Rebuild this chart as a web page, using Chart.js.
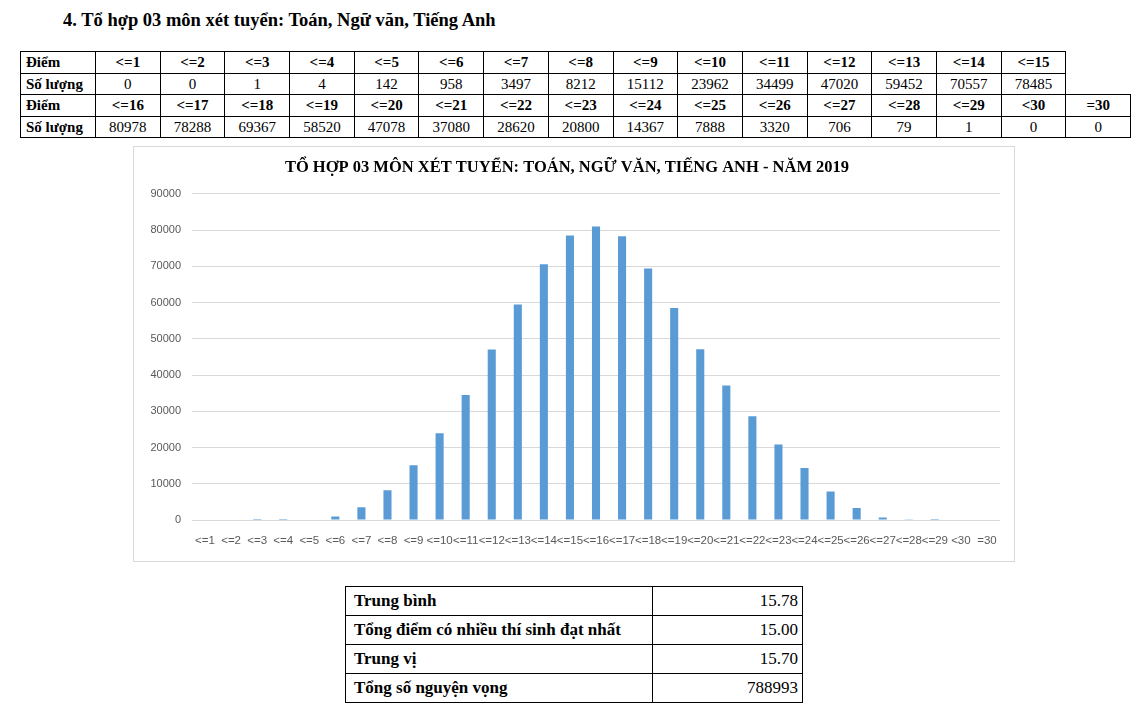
<!DOCTYPE html>
<html>
<head>
<meta charset="utf-8">
<script src="https://cdn.jsdelivr.net/npm/chart.js@4.4.0/dist/chart.umd.min.js"></script>
<style>
  html, body { margin: 0; padding: 0; background: #ffffff; }
  body { width: 1139px; height: 719px; position: relative; overflow: hidden; font-family: "Liberation Serif", "Times New Roman", serif; color: #000; }
  #heading { position: absolute; left: 63px; top: 9px; font-size: 18.5px; font-weight: bold; white-space: nowrap; line-height: 22px; }
  #scoreTable { position: absolute; left: 20px; top: 51px; border-collapse: collapse; table-layout: fixed; font-size: 15px; }
  #scoreTable td { border: 1px solid #000; height: 20.5px; padding: 0; text-align: center; line-height: 16px; white-space: nowrap; overflow: hidden; }
  #scoreTable td.rowhead { text-align: left; padding-left: 5px; font-weight: bold; }
  #scoreTable td.hdr { font-weight: bold; }
  #scoreTable td.empty { border: none; }
  #chartBox { position: absolute; left: 133px; top: 146px; width: 880px; height: 414px; border: 1px solid #d9d9d9; }
  #chartBox canvas { display: block; }
  #statTable { position: absolute; left: 345px; top: 586px; border-collapse: collapse; table-layout: fixed; font-size: 17px; }
  #statTable td { border: 1px solid #000; height: 28px; padding: 0 4px; line-height: 18px; white-space: nowrap; }
  #statTable td.lbl { font-weight: bold; text-align: left; padding-left: 8px; }
  #statTable td.val { text-align: right; }
</style>
</head>
<body>
<div id="heading">4. Tổ hợp 03 môn xét tuyển: Toán, Ngữ văn, Tiếng Anh</div>
<table id="scoreTable"></table>
<div id="chartBox"><canvas id="chart" width="880" height="414"></canvas></div>
<table id="statTable"></table>
<script>
// ---- Data ----
const categories = ["<=1","<=2","<=3","<=4","<=5","<=6","<=7","<=8","<=9","<=10","<=11","<=12","<=13","<=14","<=15",
                    "<=16","<=17","<=18","<=19","<=20","<=21","<=22","<=23","<=24","<=25","<=26","<=27","<=28","<=29","<30","=30"];
const counts = [0,0,1,4,142,958,3497,8212,15112,23962,34499,47020,59452,70557,78485,
                80978,78288,69367,58520,47078,37080,28620,20800,14367,7888,3320,706,79,1,0,0];
const rowHeaderScore = "Điểm";
const rowHeaderCount = "Số lượng";
const chartTitle = "TỔ HỢP 03 MÔN XÉT TUYỂN: TOÁN, NGỮ VĂN, TIẾNG ANH - NĂM 2019";
const statLabels = ["Trung bình","Tổng điểm có nhiều thí sinh đạt nhất","Trung vị","Tổng số nguyện vọng"];
const statValues = ["15.78","15.00","15.70","788993"];

// ---- Score table ----
(function buildScoreTable() {
  const t = document.getElementById('scoreTable');
  const cg = document.createElement('colgroup');
  const widths = [75].concat(Array(16).fill(64.7));
  widths.forEach(w => { const c = document.createElement('col'); c.style.width = w + 'px'; cg.appendChild(c); });
  t.appendChild(cg);
  const groups = [categories.slice(0, 15), categories.slice(15)];
  const vgroups = [counts.slice(0, 15), counts.slice(15)];
  groups.forEach((g, gi) => {
    const r1 = document.createElement('tr');
    const r2 = document.createElement('tr');
    const h1 = document.createElement('td'); h1.className = 'rowhead'; h1.textContent = rowHeaderScore; r1.appendChild(h1);
    const h2 = document.createElement('td'); h2.className = 'rowhead'; h2.textContent = rowHeaderCount; r2.appendChild(h2);
    g.forEach((c, i) => {
      const a = document.createElement('td'); a.className = 'hdr'; a.textContent = c; r1.appendChild(a);
      const b = document.createElement('td'); b.textContent = vgroups[gi][i]; r2.appendChild(b);
    });
    for (let k = g.length; k < 16; k++) {
      const a = document.createElement('td'); a.className = 'empty'; r1.appendChild(a);
      const b = document.createElement('td'); b.className = 'empty'; r2.appendChild(b);
    }
    t.appendChild(r1); t.appendChild(r2);
  });
})();

// ---- Stats table ----
(function buildStatTable() {
  const t = document.getElementById('statTable');
  const cg = document.createElement('colgroup');
  [307, 150].forEach(w => { const c = document.createElement('col'); c.style.width = w + 'px'; cg.appendChild(c); });
  t.appendChild(cg);
  statLabels.forEach((l, i) => {
    const r = document.createElement('tr');
    const a = document.createElement('td'); a.className = 'lbl'; a.textContent = l;
    const b = document.createElement('td'); b.className = 'val'; b.textContent = statValues[i];
    r.appendChild(a); r.appendChild(b); t.appendChild(r);
  });
})();

// ---- Chart ----
const ctx = document.getElementById('chart').getContext('2d');
new Chart(ctx, {
  type: 'bar',
  data: {
    labels: categories,
    datasets: [{
      data: counts,
      backgroundColor: '#5b9bd5',
      borderWidth: 0,
      barPercentage: 0.31,
      categoryPercentage: 1.0
    }]
  },
  options: {
    responsive: false,
    animation: false,
    devicePixelRatio: 1,
    layout: { padding: { left: 0, right: 14, top: 0, bottom: 0 } },
    plugins: {
      legend: { display: false },
      tooltip: { enabled: false },
      title: {
        display: true,
        text: chartTitle,
        color: '#000000',
        font: { family: '"Liberation Serif", "Times New Roman", serif', size: 16.5, weight: 'bold', lineHeight: 1.2 },
        padding: { top: 11, bottom: 16 }
      }
    },
    scales: {
      x: {
        grid: { display: false, drawTicks: false },
        border: { display: false },
        ticks: {
          autoSkip: false, maxRotation: 0, minRotation: 0, padding: 14,
          color: '#595959',
          font: { family: '"Liberation Sans", Arial, sans-serif', size: 11.5 }
        },
        afterFit: function (s) { s.height = 41; }
      },
      y: {
        min: 0, max: 90000,
        grid: { color: '#d9d9d9', lineWidth: 1, drawTicks: false },
        border: { display: false },
        ticks: {
          stepSize: 10000, padding: 11,
          color: '#595959',
          font: { family: '"Liberation Sans", Arial, sans-serif', size: 11 },
          callback: function (v) { return String(v); }
        },
        afterFit: function (s) { s.width = 58; }
      }
    }
  }
});
</script>
</body>
</html>
